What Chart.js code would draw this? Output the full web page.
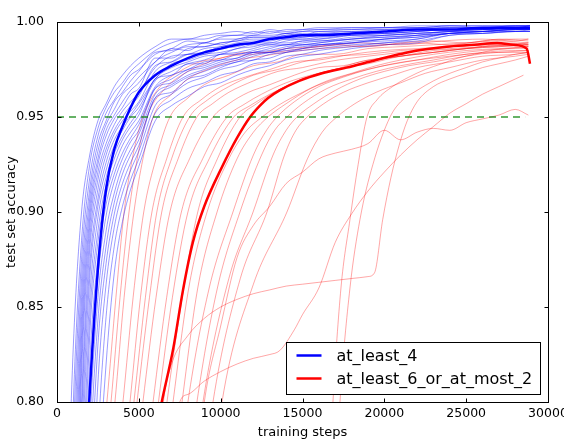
<!DOCTYPE html>
<html>
<head>
<meta charset="utf-8">
<title>test set accuracy</title>
<script src="https://cdn.jsdelivr.net/npm/chart.js@4.4.1/dist/chart.umd.min.js"></script>
<style>
  html, body { margin: 0; padding: 0; background: #fff; }
  #wrap { width: 564px; height: 440px; }
</style>
</head>
<body>
<div id="wrap"><canvas id="accuracyChart" width="564" height="440"></canvas></div>
<script>
// ---- data ----
const xTicks = [0, 5000, 10000, 15000, 20000, 25000, 30000];
const yTicks = [0.80, 0.85, 0.90, 0.95, 1.00];

const targetAccuracy = 0.95;
const targetSpan = [0, 28600];

// blue runs share one step grid
const blueSteps = [500, 1000, 1500, 2000, 2500, 3000, 3500, 4000, 4500, 5000, 6000, 7000, 8000, 9000, 10000, 11000, 12000, 13000, 14000, 15000, 16000, 18000, 20000, 22000, 24000, 26000, 28000, 28900];

const blueRuns = [
    [0.70, 0.83, 0.90, 0.930, 0.948, 0.957, 0.966, 0.972, 0.977, 0.981, 0.987, 0.991, 0.991, 0.993, 0.994, 0.995, 0.994, 0.996, 0.995, 0.996, 0.997, 0.997, 0.997, 0.998, 0.998, 0.998, 0.998, 0.998],
    [0.64, 0.80, 0.885, 0.925, 0.944, 0.955, 0.963, 0.968, 0.974, 0.978, 0.985, 0.989, 0.991, 0.991, 0.993, 0.993, 0.995, 0.994, 0.996, 0.996, 0.996, 0.997, 0.997, 0.997, 0.998, 0.998, 0.998, 0.998],
    [0.60, 0.78, 0.875, 0.918, 0.940, 0.952, 0.959, 0.966, 0.972, 0.975, 0.983, 0.986, 0.990, 0.989, 0.992, 0.993, 0.993, 0.995, 0.994, 0.995, 0.996, 0.996, 0.997, 0.997, 0.998, 0.997, 0.998, 0.998],
    [0.57, 0.76, 0.865, 0.912, 0.936, 0.948, 0.958, 0.963, 0.969, 0.974, 0.984, 0.985, 0.988, 0.989, 0.991, 0.991, 0.993, 0.993, 0.994, 0.995, 0.995, 0.996, 0.996, 0.997, 0.997, 0.997, 0.998, 0.998],
    [0.54, 0.74, 0.855, 0.907, 0.932, 0.946, 0.954, 0.962, 0.966, 0.971, 0.979, 0.986, 0.985, 0.989, 0.988, 0.991, 0.992, 0.992, 0.994, 0.993, 0.995, 0.995, 0.996, 0.996, 0.997, 0.997, 0.997, 0.998],
    [0.52, 0.72, 0.845, 0.902, 0.928, 0.943, 0.951, 0.958, 0.964, 0.968, 0.979, 0.984, 0.987, 0.987, 0.989, 0.990, 0.992, 0.992, 0.993, 0.994, 0.994, 0.995, 0.995, 0.996, 0.997, 0.997, 0.997, 0.998],
    [0.50, 0.70, 0.835, 0.897, 0.925, 0.940, 0.949, 0.955, 0.962, 0.965, 0.981, 0.981, 0.986, 0.987, 0.989, 0.990, 0.991, 0.991, 0.993, 0.993, 0.994, 0.994, 0.995, 0.996, 0.996, 0.997, 0.997, 0.997],
    [0.48, 0.68, 0.825, 0.892, 0.921, 0.936, 0.946, 0.953, 0.958, 0.963, 0.976, 0.982, 0.983, 0.986, 0.987, 0.989, 0.990, 0.990, 0.992, 0.992, 0.993, 0.994, 0.995, 0.996, 0.996, 0.997, 0.997, 0.997],
    [0.46, 0.66, 0.815, 0.886, 0.917, 0.933, 0.943, 0.950, 0.956, 0.961, 0.977, 0.979, 0.983, 0.984, 0.987, 0.988, 0.989, 0.991, 0.991, 0.992, 0.993, 0.994, 0.994, 0.995, 0.996, 0.996, 0.997, 0.997],
    [0.45, 0.64, 0.80, 0.880, 0.912, 0.930, 0.941, 0.948, 0.953, 0.958, 0.974, 0.979, 0.983, 0.983, 0.986, 0.987, 0.989, 0.989, 0.991, 0.991, 0.992, 0.993, 0.994, 0.995, 0.996, 0.996, 0.997, 0.997],
    [0.44, 0.62, 0.79, 0.872, 0.907, 0.926, 0.938, 0.945, 0.951, 0.957, 0.970, 0.978, 0.980, 0.983, 0.984, 0.986, 0.988, 0.988, 0.990, 0.991, 0.991, 0.993, 0.994, 0.995, 0.996, 0.996, 0.997, 0.997],
    [0.42, 0.60, 0.775, 0.865, 0.903, 0.922, 0.935, 0.943, 0.950, 0.955, 0.970, 0.976, 0.979, 0.982, 0.983, 0.986, 0.987, 0.989, 0.989, 0.990, 0.991, 0.993, 0.993, 0.994, 0.995, 0.996, 0.997, 0.997],
    [0.40, 0.58, 0.76, 0.855, 0.897, 0.918, 0.931, 0.940, 0.947, 0.953, 0.969, 0.974, 0.978, 0.980, 0.983, 0.984, 0.986, 0.988, 0.988, 0.990, 0.990, 0.992, 0.993, 0.994, 0.995, 0.996, 0.996, 0.997],
    [0.39, 0.56, 0.74, 0.845, 0.890, 0.914, 0.928, 0.938, 0.945, 0.951, 0.970, 0.972, 0.978, 0.978, 0.983, 0.983, 0.985, 0.987, 0.988, 0.989, 0.990, 0.991, 0.993, 0.994, 0.995, 0.996, 0.996, 0.996],
    [0.38, 0.54, 0.72, 0.835, 0.884, 0.909, 0.924, 0.935, 0.942, 0.948, 0.966, 0.972, 0.975, 0.979, 0.980, 0.983, 0.984, 0.986, 0.988, 0.988, 0.989, 0.991, 0.992, 0.993, 0.995, 0.995, 0.996, 0.996],
    [0.36, 0.52, 0.70, 0.82, 0.876, 0.904, 0.920, 0.931, 0.939, 0.946, 0.965, 0.970, 0.975, 0.977, 0.980, 0.981, 0.984, 0.985, 0.987, 0.988, 0.989, 0.991, 0.992, 0.993, 0.994, 0.995, 0.996, 0.996],
    [0.35, 0.50, 0.68, 0.805, 0.866, 0.898, 0.916, 0.928, 0.937, 0.943, 0.965, 0.968, 0.974, 0.976, 0.979, 0.981, 0.984, 0.984, 0.986, 0.988, 0.988, 0.990, 0.991, 0.993, 0.994, 0.995, 0.996, 0.996],
    [0.34, 0.48, 0.65, 0.785, 0.855, 0.890, 0.910, 0.924, 0.933, 0.941, 0.962, 0.967, 0.972, 0.975, 0.978, 0.980, 0.983, 0.984, 0.986, 0.987, 0.988, 0.989, 0.991, 0.992, 0.994, 0.995, 0.996, 0.996],
    [0.33, 0.46, 0.62, 0.765, 0.843, 0.882, 0.905, 0.920, 0.930, 0.938, 0.960, 0.966, 0.971, 0.974, 0.977, 0.979, 0.982, 0.984, 0.985, 0.986, 0.988, 0.989, 0.991, 0.992, 0.994, 0.995, 0.996, 0.996],
    [0.32, 0.44, 0.59, 0.74, 0.83, 0.873, 0.899, 0.915, 0.926, 0.935, 0.960, 0.963, 0.970, 0.972, 0.976, 0.979, 0.980, 0.983, 0.984, 0.986, 0.987, 0.989, 0.990, 0.991, 0.994, 0.995, 0.995, 0.996],
    [0.30, 0.42, 0.56, 0.71, 0.81, 0.862, 0.892, 0.910, 0.922, 0.932, 0.956, 0.962, 0.968, 0.971, 0.975, 0.977, 0.980, 0.981, 0.984, 0.985, 0.986, 0.988, 0.989, 0.991, 0.994, 0.994, 0.995, 0.995],
    [0.28, 0.40, 0.53, 0.67, 0.78, 0.845, 0.882, 0.903, 0.917, 0.928, 0.952, 0.959, 0.965, 0.968, 0.972, 0.974, 0.978, 0.979, 0.982, 0.983, 0.985, 0.987, 0.989, 0.990, 0.993, 0.994, 0.995, 0.995],
    [0.26, 0.38, 0.50, 0.63, 0.75, 0.82, 0.868, 0.895, 0.912, 0.924, 0.948, 0.956, 0.961, 0.966, 0.968, 0.972, 0.975, 0.977, 0.980, 0.982, 0.983, 0.986, 0.988, 0.989, 0.993, 0.994, 0.995, 0.995]
];

const blueMean = [0.45, 0.60, 0.72, 0.805, 0.87, 0.912, 0.933, 0.945, 0.955, 0.963, 0.972, 0.977, 0.981, 0.984, 0.986, 0.988, 0.989, 0.991, 0.992, 0.993, 0.993, 0.994, 0.995, 0.996, 0.996, 0.997, 0.997, 0.997];

// red runs: [step, accuracy] pairs, each run logged over its own steps
const redRuns = [
    [[1900, 0.70], [3050, 0.80], [3600, 0.855], [4100, 0.90], [4600, 0.928], [5250, 0.950], [6300, 0.966], [7500, 0.974], [8700, 0.979], [10000, 0.981], [11500, 0.984], [13000, 0.984], [15000, 0.986], [17000, 0.988], [19000, 0.987], [21000, 0.989], [23000, 0.990], [25000, 0.989], [27000, 0.991], [28800, 0.990]],
    [[2100, 0.70], [3300, 0.80], [3850, 0.855], [4400, 0.90], [4900, 0.928], [5500, 0.950], [6500, 0.964], [7800, 0.973], [9000, 0.978], [10500, 0.982], [12000, 0.983], [14000, 0.986], [16000, 0.987], [18500, 0.989], [21000, 0.988], [23500, 0.990], [26000, 0.991], [28000, 0.990], [28800, 0.991]],
    [[2300, 0.70], [3540, 0.80], [4100, 0.855], [4700, 0.90], [5250, 0.928], [5870, 0.950], [7000, 0.962], [8000, 0.970], [9500, 0.976], [11000, 0.980], [12500, 0.982], [14000, 0.984], [16000, 0.986], [18000, 0.987], [20000, 0.988], [22000, 0.989], [24000, 0.988], [26000, 0.990], [28000, 0.991], [28800, 0.991]],
    [[2800, 0.70], [4030, 0.80], [4650, 0.855], [5300, 0.90], [6050, 0.928], [6900, 0.950], [8000, 0.960], [9000, 0.967], [10500, 0.972], [12000, 0.977], [13500, 0.979], [15000, 0.983], [17000, 0.983], [19000, 0.986], [21000, 0.987], [23000, 0.988], [25000, 0.989], [27000, 0.990], [28800, 0.989]],
    [[3200, 0.70], [4460, 0.80], [5100, 0.855], [5800, 0.90], [6700, 0.928], [7700, 0.950], [8800, 0.959], [10000, 0.966], [11500, 0.971], [13000, 0.975], [14500, 0.979], [16000, 0.980], [18000, 0.983], [20000, 0.985], [22000, 0.986], [24000, 0.987], [26000, 0.988], [27500, 0.989], [28800, 0.988]],
    [[3400, 0.70], [4700, 0.80], [5400, 0.855], [6100, 0.90], [7000, 0.928], [8100, 0.950], [9200, 0.959], [10500, 0.966], [12000, 0.972], [13500, 0.975], [15000, 0.979], [17000, 0.982], [19000, 0.983], [21000, 0.985], [23000, 0.986], [25000, 0.988], [27000, 0.988], [28800, 0.989]],
    [[3600, 0.70], [4890, 0.80], [5650, 0.855], [6400, 0.90], [7400, 0.928], [8550, 0.950], [9500, 0.957], [10500, 0.963], [12000, 0.969], [13500, 0.974], [15000, 0.976], [16500, 0.979], [18000, 0.981], [20000, 0.983], [22000, 0.985], [24000, 0.986], [26000, 0.987], [28000, 0.988], [28800, 0.988]],
    [[3900, 0.70], [5250, 0.80], [6050, 0.855], [6900, 0.90], [8100, 0.928], [9530, 0.950], [10500, 0.957], [11700, 0.963], [13000, 0.967], [14500, 0.972], [16000, 0.976], [17500, 0.977], [19000, 0.980], [21000, 0.982], [23000, 0.984], [25000, 0.986], [27000, 0.987], [28800, 0.988]],
    [[4500, 0.70], [5870, 0.80], [6700, 0.855], [7600, 0.90], [8900, 0.928], [10390, 0.950], [11500, 0.957], [12500, 0.962], [14000, 0.968], [15500, 0.972], [17000, 0.975], [18500, 0.979], [20000, 0.981], [22000, 0.983], [24000, 0.985], [26000, 0.987], [28000, 0.988], [28800, 0.989]],
    [[4800, 0.70], [6200, 0.80], [7050, 0.855], [8000, 0.90], [9300, 0.928], [10800, 0.950], [11800, 0.956], [13000, 0.962], [14500, 0.968], [16000, 0.973], [17500, 0.976], [19000, 0.978], [21000, 0.982], [23000, 0.984], [25000, 0.986], [27000, 0.987], [28800, 0.988]],
    [[5300, 0.70], [6720, 0.80], [7650, 0.855], [8600, 0.90], [9800, 0.928], [11180, 0.950], [12200, 0.957], [13500, 0.964], [15000, 0.970], [16500, 0.974], [18000, 0.977], [19500, 0.980], [21000, 0.982], [23000, 0.985], [25000, 0.986], [27000, 0.988], [28800, 0.987]],
    [[5700, 0.70], [7090, 0.80], [8050, 0.86], [9170, 0.90], [10500, 0.928], [11500, 0.942], [12530, 0.950], [13500, 0.956], [15000, 0.963], [16500, 0.969], [18000, 0.973], [19500, 0.977], [21000, 0.980], [23000, 0.983], [25000, 0.985], [27000, 0.986], [28800, 0.987]],
    [[6200, 0.70], [7640, 0.80], [8600, 0.86], [9780, 0.90], [11000, 0.928], [12000, 0.942], [12890, 0.950], [14000, 0.957], [15500, 0.965], [17000, 0.970], [18500, 0.974], [20000, 0.977], [22000, 0.980], [24000, 0.983], [26000, 0.985], [28000, 0.986], [28800, 0.986]],
    [[6600, 0.70], [8000, 0.80], [9300, 0.86], [10750, 0.90], [12000, 0.930], [12800, 0.943], [13440, 0.950], [14500, 0.958], [16000, 0.966], [17500, 0.971], [19000, 0.975], [20500, 0.978], [22000, 0.980], [24000, 0.982], [26000, 0.984], [28000, 0.985], [28800, 0.985]],
    [[7100, 0.70], [8550, 0.80], [9800, 0.86], [11180, 0.90], [12500, 0.930], [13300, 0.943], [14050, 0.950], [15000, 0.957], [16500, 0.965], [18000, 0.970], [19500, 0.974], [21000, 0.977], [23000, 0.980], [25000, 0.983], [27000, 0.984], [28800, 0.985]],
    [[7500, 0.70], [8920, 0.80], [10500, 0.865], [11980, 0.90], [13200, 0.930], [14000, 0.943], [14660, 0.950], [15700, 0.957], [17000, 0.964], [18500, 0.970], [20000, 0.974], [21500, 0.977], [23000, 0.979], [25000, 0.982], [27000, 0.984], [28800, 0.984]],
    [[8100, 0.70], [9530, 0.80], [11200, 0.865], [12830, 0.90], [13900, 0.930], [14600, 0.943], [15280, 0.950], [16300, 0.957], [17500, 0.963], [19000, 0.968], [20500, 0.972], [22000, 0.976], [24000, 0.979], [26000, 0.982], [28000, 0.983], [28800, 0.984]],
    [[8700, 0.70], [10080, 0.80], [12000, 0.862], [14050, 0.90], [15300, 0.928], [16200, 0.942], [17100, 0.950], [18200, 0.957], [19500, 0.963], [21000, 0.968], [22500, 0.973], [24000, 0.976], [26000, 0.980], [28000, 0.982], [28800, 0.983]],
    // slow run that ends lowest
    [[8500, 0.76], [9000, 0.80], [10000, 0.84], [11000, 0.876], [12000, 0.893], [13000, 0.903], [14000, 0.915], [15000, 0.921], [16000, 0.928], [17000, 0.931], [18000, 0.933], [19000, 0.936], [20000, 0.943], [21000, 0.938], [22000, 0.942], [23000, 0.944], [24000, 0.943], [25000, 0.947], [26000, 0.949], [27000, 0.951], [28000, 0.954], [28800, 0.951]],
    // long low stretch, then climbs
    [[7000, 0.75], [7500, 0.80], [8000, 0.804], [9000, 0.811], [10000, 0.816], [11000, 0.820], [12000, 0.823], [13000, 0.825], [13600, 0.827], [14500, 0.838], [15000, 0.846], [16000, 0.860], [17000, 0.884], [18000, 0.899], [19000, 0.911], [20000, 0.921], [21000, 0.930], [22000, 0.938], [23000, 0.945], [24000, 0.952], [25000, 0.957], [26000, 0.962], [27000, 0.966], [28000, 0.970], [28500, 0.972]],
    // plateau near 0.866 until ~19k, then a jump
    [[6000, 0.75], [6500, 0.80], [7000, 0.820], [8000, 0.835], [9000, 0.844], [10000, 0.850], [11000, 0.854], [12000, 0.857], [13000, 0.859], [14000, 0.861], [15000, 0.862], [16000, 0.863], [17000, 0.864], [18000, 0.865], [19000, 0.866], [19400, 0.868], [19900, 0.896], [20400, 0.918], [20900, 0.935], [21400, 0.948], [22000, 0.958], [23000, 0.966], [24000, 0.970], [25000, 0.973], [26000, 0.976], [27000, 0.978], [28000, 0.980], [28800, 0.982]],
    // two late starters
    [[16300, 0.70], [16860, 0.80], [17350, 0.86], [17900, 0.896], [18400, 0.925], [18940, 0.950], [19550, 0.959], [20500, 0.966], [21500, 0.971], [22500, 0.975], [23500, 0.978], [24500, 0.981], [25500, 0.983], [26500, 0.985], [27500, 0.986], [28800, 0.987]],
    [[16700, 0.70], [17290, 0.80], [17900, 0.86], [18510, 0.896], [19300, 0.925], [20350, 0.950], [21000, 0.958], [22000, 0.964], [23000, 0.969], [24000, 0.973], [25000, 0.976], [26000, 0.979], [27000, 0.981], [28000, 0.983], [28800, 0.984]]
];

const redMean = [[6000, 0.782], [6400, 0.80], [7100, 0.828], [7700, 0.859], [8300, 0.884], [9000, 0.903], [10100, 0.924], [11000, 0.939], [11800, 0.950], [12400, 0.956], [12900, 0.960], [13600, 0.964], [14800, 0.969], [16200, 0.973], [17700, 0.976], [19500, 0.980], [21400, 0.984], [23800, 0.987], [25500, 0.988], [26900, 0.989], [27900, 0.988], [28700, 0.986], [28900, 0.978]];

const seriesNames = ['at_least_4', 'at_least_6_or_at_most_2'];
const seriesColors = ['#0000ff', '#ff0000'];

// ---- build datasets ----
Chart.defaults.font.family = '"DejaVu Sans", sans-serif';
Chart.defaults.color = '#000';

function thinLine(points, color) {
    return {
        data: points,
        borderColor: color,
        borderWidth: 1,
        pointRadius: 0,
        cubicInterpolationMode: 'monotone',
        fill: false,
        clip: 0
    };
}

const datasets = [];

// green target line, drawn on top
datasets.push({
    data: targetSpan.map(s => ({ x: s, y: targetAccuracy })),
    borderColor: 'rgba(0, 128, 0, 0.8)',
    borderWidth: 1.3,
    borderDash: [7, 5],
    pointRadius: 0,
    fill: false,
    order: 0
});

// the two mean curves
datasets.push({
    data: blueSteps.map((s, i) => ({ x: s, y: blueMean[i] })),
    borderColor: seriesColors[0],
    borderWidth: 2.5,
    pointRadius: 0,
    cubicInterpolationMode: 'monotone',
    fill: false,
    clip: 0,
    order: 1
});
datasets.push({
    data: redMean.map(p => ({ x: p[0], y: p[1] })),
    borderColor: seriesColors[1],
    borderWidth: 2.5,
    pointRadius: 0,
    cubicInterpolationMode: 'monotone',
    fill: false,
    clip: 0,
    order: 1
});

blueRuns.forEach(run => {
    const ds = thinLine(blueSteps.map((s, i) => ({ x: s, y: run[i] })), 'rgba(0, 0, 255, 0.4)');
    ds.order = 2;
    datasets.push(ds);
});

redRuns.forEach(run => {
    const ds = thinLine(run.map(p => ({ x: p[0], y: p[1] })), 'rgba(255, 0, 0, 0.35)');
    ds.order = 3;
    datasets.push(ds);
});

// frame, inward ticks on all sides, and the legend box
const frameAndLegend = {
    id: 'frameAndLegend',
    afterDraw(chart) {
        const { ctx, chartArea: a, scales } = chart;
        const left = Math.round(a.left) + 0.5;
        const right = Math.round(a.right) + 0.5;
        const top = Math.round(a.top) + 0.5;
        const bottom = Math.round(a.bottom) + 0.5;
        ctx.save();

        // legend
        ctx.font = '16px "DejaVu Sans", sans-serif';
        const textW = Math.max(...seriesNames.map(n => ctx.measureText(n).width));
        const boxW = Math.round(10 + 25 + 15 + textW + 8);
        const boxH = 52;
        const bx = right - 8 - boxW;
        const by = bottom - 8 - boxH;
        ctx.fillStyle = '#fff';
        ctx.fillRect(bx, by, boxW, boxH);
        ctx.strokeStyle = '#000';
        ctx.lineWidth = 1;
        ctx.strokeRect(bx, by, boxW, boxH);
        seriesNames.forEach((name, i) => {
            const cy = by + 13 + i * 23;
            ctx.strokeStyle = seriesColors[i];
            ctx.lineWidth = 2.5;
            ctx.beginPath();
            ctx.moveTo(bx + 10, cy);
            ctx.lineTo(bx + 35, cy);
            ctx.stroke();
            ctx.fillStyle = '#000';
            ctx.textBaseline = 'middle';
            ctx.textAlign = 'left';
            ctx.fillText(name, bx + 50, cy + 1);
        });

        // ticks
        ctx.strokeStyle = '#000';
        ctx.lineWidth = 1;
        ctx.beginPath();
        scales.x.ticks.forEach(t => {
            const px = Math.round(scales.x.getPixelForValue(t.value)) + 0.5;
            ctx.moveTo(px, bottom); ctx.lineTo(px, bottom - 4);
            ctx.moveTo(px, top); ctx.lineTo(px, top + 4);
        });
        scales.y.ticks.forEach(t => {
            const py = Math.round(scales.y.getPixelForValue(t.value)) + 0.5;
            ctx.moveTo(left, py); ctx.lineTo(left + 4, py);
            ctx.moveTo(right, py); ctx.lineTo(right - 4, py);
        });
        ctx.stroke();

        // axes box
        ctx.strokeRect(left, top, right - left, bottom - top);
        ctx.restore();
    }
};

const ctx = document.getElementById('accuracyChart').getContext('2d');
const accuracyChart = new Chart(ctx, {
    type: 'line',
    data: { datasets: datasets },
    options: {
        responsive: false,
        animation: false,
        devicePixelRatio: 1,
        events: [],
        layout: { padding: { top: 22, right: 16, left: 0, bottom: 0 } },
        plugins: {
            legend: { display: false },
            tooltip: { enabled: false }
        },
        scales: {
            x: {
                type: 'linear',
                min: xTicks[0],
                max: xTicks[xTicks.length - 1],
                grid: { display: false },
                border: { display: false },
                ticks: {
                    stepSize: 5000,
                    maxRotation: 0,
                    padding: -4,
                    font: { size: 12.5 },
                    color: '#000',
                    callback: v => String(v)
                },
                title: {
                    display: true,
                    text: 'training steps',
                    font: { size: 13 },
                    color: '#000',
                    padding: { top: 0, bottom: 0 }
                },
                // keep the plot box fixed, let "30000" run past the edge
                afterFit: scale => {
                    scale.height = 38;
                    scale.paddingLeft = 0;
                    scale.paddingRight = 0;
                }
            },
            y: {
                type: 'linear',
                min: yTicks[0],
                max: yTicks[yTicks.length - 1],
                grid: { display: false },
                border: { display: false },
                ticks: {
                    stepSize: 0.05,
                    padding: 5,
                    font: { size: 12.5 },
                    color: '#000',
                    callback: v => v.toFixed(2)
                },
                title: {
                    display: true,
                    text: 'test set accuracy',
                    font: { size: 13 },
                    color: '#000',
                    padding: { top: 4, bottom: 0 }
                },
                afterFit: scale => {
                    scale.width = 57;
                    scale.paddingTop = 0;
                    scale.paddingBottom = 0;
                }
            }
        }
    },
    plugins: [frameAndLegend]
});
</script>
</body>
</html>
